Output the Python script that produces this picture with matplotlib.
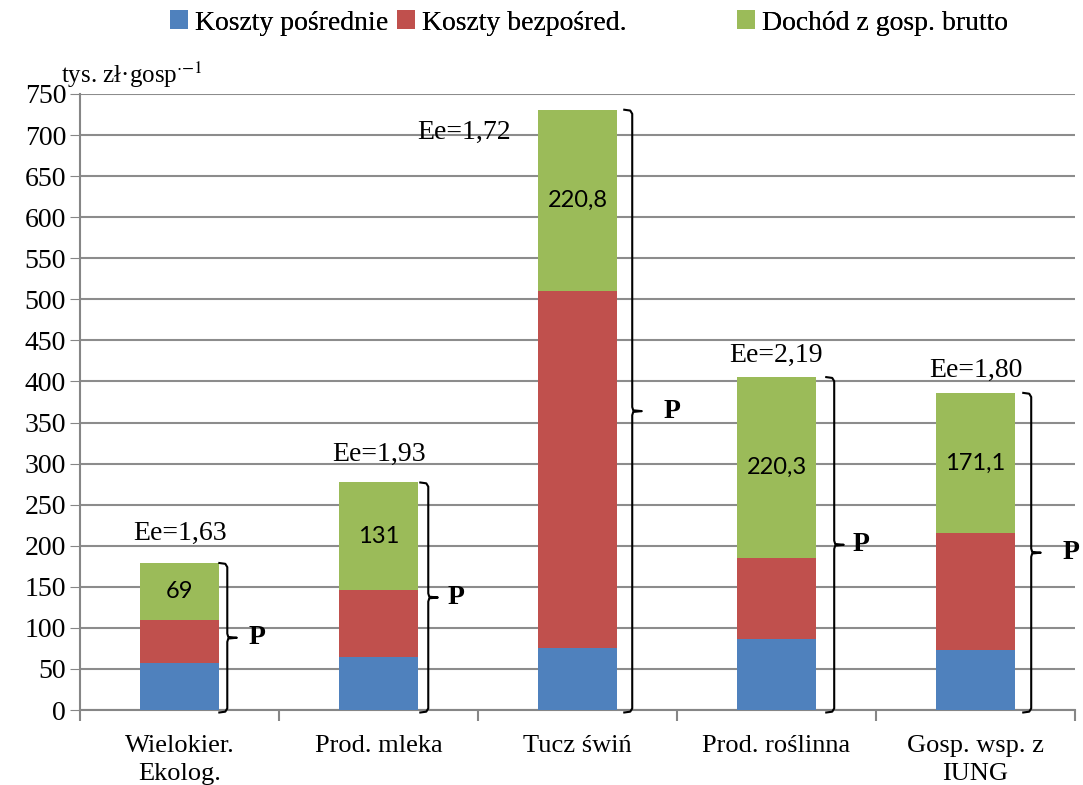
import matplotlib.pyplot as plt
import numpy as np

# categories and stacked values (tys. zł per farm)
categories = ['Wielokier.\nEkolog.', 'Prod. mleka', 'Tucz świń', 'Prod. roślinna', 'Gosp. wsp. z\nIUNG']
koszty_posr = [57, 64, 76, 86, 73]
koszty_bezp = [53, 82, 434, 99, 142]
dochod = [69, 131, 220.8, 220.3, 171.1]
dochod_labels = ['69', '131', '220,8', '220,3', '171,1']
ee_labels = ['Ee=1,63', 'Ee=1,93', 'Ee=1,72', 'Ee=2,19', 'Ee=1,80']

plt.rcParams['font.family'] = ['Liberation Serif', 'DejaVu Serif']
plt.rcParams['mathtext.fontset'] = 'stix'

fig = plt.figure(figsize=(10.83, 7.85), dpi=100)
ax = fig.add_axes([0.0739, 0.0955, 0.9187, 0.7848])

x = np.arange(len(categories))
w = 0.4
blue, red, green = '#4F81BD', '#C0504D', '#9BBB59'
b1 = np.array(koszty_posr)
b2 = b1 + np.array(koszty_bezp)
tot = b2 + np.array(dochod)

h1 = ax.bar(x, koszty_posr, w, color=blue, label='Koszty pośrednie', zorder=3)
h2 = ax.bar(x, koszty_bezp, w, bottom=b1, color=red, label='Koszty bezpośred.', zorder=3)
h3 = ax.bar(x, dochod, w, bottom=b2, color=green, label='Dochód z gosp. brutto', zorder=3)

# labels inside green segments
for i in range(len(x)):
    ax.text(x[i], b2[i] + dochod[i] / 2, dochod_labels[i], ha='center', va='center',
            fontsize=17, family='Lato', zorder=4)

# Ee labels
ee_off = [36, 34, 0, 27, 27]
for i in range(len(x)):
    if i == 2:
        ax.text(x[i] - 0.57, tot[i] - 27, ee_labels[i], ha='center', va='center', fontsize=20)
    else:
        ax.text(x[i], tot[i] + ee_off[i], ee_labels[i], ha='center', va='center', fontsize=20)

# curly brackets with P
gaps = [0.04, 0.05, 0.075, 0.09, 0.08]
p_off = [0.15, 0.14, 0.2, 0.135, 0.2]
for i in range(len(x)):
    x0 = x[i] + w / 2 + gaps[i]
    top, bot = tot[i], -3
    mid = (top + bot) / 2
    h = 0.04
    r = 5
    xs = [x0 - h, x0 - 0.01, x0, x0, x0 + 0.005, x0 + h * 1.2, x0 + 0.005, x0, x0, x0 - 0.01, x0 - h]
    ys = [top, top - 1, top - r, mid + r, mid + 1, mid, mid - 1, mid - r, bot + r, bot + 1, bot]
    ax.plot(xs, ys, color='black', lw=1.5, zorder=4, clip_on=False)
    ax.text(x0 + p_off[i], mid, 'P', ha='center', va='center', fontsize=20, fontweight='bold')

ax.set_xlim(-0.5, 4.5)
ax.set_ylim(0, 750)
ax.set_yticks(np.arange(0, 751, 50))
ax.tick_params(axis='y', labelsize=20, length=7, color='#868686', pad=3)
ax.set_xticks(x)
ax.set_xticklabels(categories, fontsize=19, linespacing=1.35)
ax.tick_params(axis='x', which='major', length=0, pad=18)
ax.set_xticks(np.arange(-0.5, 5, 1), minor=True)
ax.tick_params(axis='x', which='minor', length=8, color='#868686', width=1.5)
ax.grid(axis='y', color='#8c8c8c', lw=1.5, zorder=0)
for s in ['top', 'right']:
    ax.spines[s].set_visible(False)
for s in ['left', 'bottom']:
    ax.spines[s].set_color('#868686')
    ax.spines[s].set_linewidth(1.5)

fig.text(0.056, 0.905, 'tys. zł·gosp$^{\\cdot\\mathrm{-1}}$', fontsize=18, va='center')

# legend entries placed like the original
for hnd, lx in [(h1, 170), (h2, 397), (h3, 737)]:
    lg = fig.legend(handles=[hnd], loc='center left', bbox_to_anchor=(lx / 1083, 1 - 23 / 785),
                    frameon=False, fontsize=20, handlelength=0.65, handleheight=0.65,
                    handletextpad=0.25, borderpad=0, borderaxespad=0)
    fig.add_artist(lg)

fig.savefig('out.png', dpi=100)
